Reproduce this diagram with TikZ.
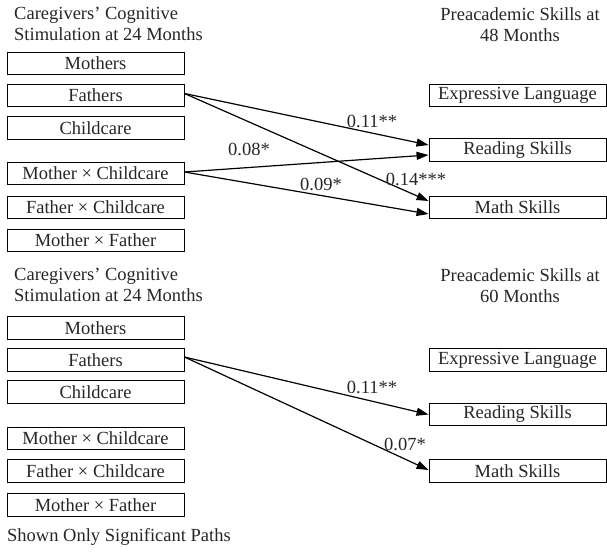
\documentclass[tikz,border=0pt]{standalone}
\usepackage{fontspec}
\setmainfont{Liberation Serif}
\usetikzlibrary{arrows.meta}
\begin{document}
\begin{tikzpicture}[x=1pt,y=-1pt,
  every node/.style={font=\rmfamily\fontsize{18.5}{21}\selectfont, text=black!85},
  box/.style={draw, line width=0.9pt, minimum width=177pt, minimum height=22.5pt, inner sep=0pt},
  head/.style={inner sep=0pt, align=left, anchor=north west},
  rhead/.style={inner sep=0pt, align=center, anchor=north},
  coef/.style={inner sep=0pt, anchor=base},
  path/.style={line width=1.2pt, -{Triangle[length=12pt,width=8pt]}}]
\useasboundingbox (0,0) rectangle (607,551);
% ---------- top panel ----------
\node[head] (lh1) at (14,7) {Caregivers’ Cognitive\\Stimulation at 24 Months};
\node[rhead] (rh1) at (520,7) {Preacademic Skills at\\48 Months};
\node[box] (mo1) at (95.5,63.5) {Mothers};
\node[box] (fa1) at (95.5,95.5) {Fathers};
\node[box] (cc1) at (95.5,128) {Childcare};
\node[box] (mc1) at (95.5,173.5) {Mother × Childcare};
\node[box] (fc1) at (95.5,207.5) {Father × Childcare};
\node[box] (mf1) at (95.5,240.5) {Mother × Father};
\node[box] (ex1) at (517.5,95.5) {Expressive Language};
\node[box] (rd1) at (517.5,150) {Reading Skills};
\node[box] (ma1) at (517.5,207.5) {Math Skills};
\draw[path] ([yshift=2pt]fa1.east) -- ([yshift=5pt]rd1.west);
\draw[path] ([yshift=2pt]fa1.east) -- ([yshift=6.5pt]ma1.west);
\draw[path] ([yshift=1.5pt]mc1.east) -- ([yshift=-5pt]rd1.west);
\draw[path] ([yshift=1.5pt]mc1.east) -- ([yshift=-6.5pt]ma1.west);
\node[coef] (c11) at (372,127) {0.11**};
\node[coef] (c12) at (249,155) {0.08*};
\node[coef] (c13) at (321,190) {0.09*};
\node[coef] (c14) at (416,185) {0.14***};
% ---------- bottom panel ----------
\node[head] (lh2) at (14,268) {Caregivers’ Cognitive\\Stimulation at 24 Months};
\node[rhead] (rh2) at (520,268) {Preacademic Skills at\\60 Months};
\node[box] (mo2) at (95.5,328) {Mothers};
\node[box] (fa2) at (95.5,360) {Fathers};
\node[box] (cc2) at (95.5,392) {Childcare};
\node[box] (mc2) at (95.5,438.5) {Mother × Childcare};
\node[box] (fc2) at (95.5,471) {Father × Childcare};
\node[box] (mf2) at (95.5,505) {Mother × Father};
\node[box] (ex2) at (517.5,360) {Expressive Language};
\node[box] (rd2) at (517.5,414.5) {Reading Skills};
\node[box] (ma2) at (517.5,471) {Math Skills};
\draw[path] ([yshift=3pt]fa2.east) -- (rd2.west);
\draw[path] ([yshift=3pt]fa2.east) -- ([yshift=1pt]ma2.west);
\node[coef] (c21) at (372,393) {0.11**};
\node[coef] (c22) at (405,450) {0.07*};
\node[head, anchor=base west] (note) at (7,541) {Shown Only Significant Paths};
\end{tikzpicture}
\end{document}
